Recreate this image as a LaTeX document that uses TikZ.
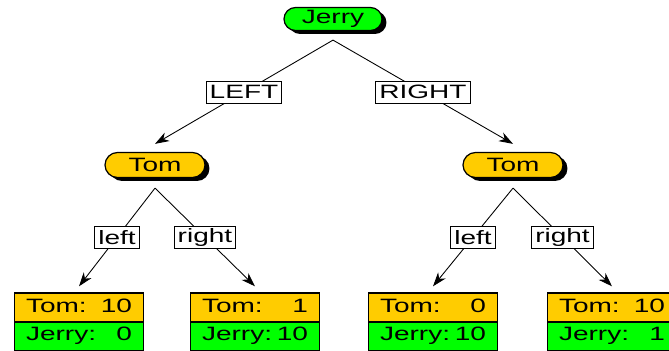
\documentclass[tikz,border=0pt]{standalone}
\usepackage{fontspec}
\setmainfont{Liberation Sans}[FakeStretch=1.45]
\usetikzlibrary{shapes.misc,shapes.multipart,shadows,arrows.meta}
\definecolor{tomgold}{RGB}{255,204,0}
\definecolor{jerrygreen}{RGB}{0,255,0}

\begin{document}
\begin{tikzpicture}[x=0.02cm,y=-0.02cm,
  player/.style={rounded rectangle,draw,line width=0.7pt,minimum height=0.46cm,
    inner sep=0pt,font=\fontsize{11pt}{13pt}\selectfont,
    drop shadow={fill=black,opacity=1,shadow xshift=0.09cm,shadow yshift=-0.07cm}},
  move/.style={draw,fill=white,line width=0.5pt,inner xsep=2pt,inner ysep=0pt,
    minimum height=0.44cm,font=\fontsize{11pt}{13pt}\selectfont},
  score/.style={rectangle split,rectangle split parts=2,draw,line width=1pt,
    rectangle split part fill={tomgold,jerrygreen},inner xsep=6.5pt,inner ysep=1.2pt,
    font=\fontsize{11pt}{13pt}\selectfont},
  edge/.style={line width=0.5pt,-{Stealth[length=8pt,width=5.5pt,inset=2.5pt]}}]
\useasboundingbox (0,0) rectangle (669,351);

% players
\node (jerry) at (333,19) [player,fill=jerrygreen,minimum width=1.96cm] {Jerry};
\node (tomL) at (155,165) [player,fill=tomgold,minimum width=2cm,minimum height=0.5cm] {Tom};
\node (tomR) at (513,165) [player,fill=tomgold,minimum width=2cm,minimum height=0.5cm] {Tom};

% payoffs
\node (leafLL) at (79,322) [score] {\strut\makebox[2.12cm]{Tom:\hfill 10}\nodepart{two}\strut\makebox[2.12cm]{Jerry:\hfill 0}};
\node (leafLR) at (255,322) [score] {\strut\makebox[2.12cm]{Tom:\hfill 1}\nodepart{two}\strut\makebox[2.12cm]{Jerry:\hfill 10}};
\node (leafRL) at (433,322) [score] {\strut\makebox[2.12cm]{Tom:\hfill 0}\nodepart{two}\strut\makebox[2.12cm]{Jerry:\hfill 10}};
\node (leafRR) at (612,322) [score] {\strut\makebox[2.12cm]{Tom:\hfill 10}\nodepart{two}\strut\makebox[2.12cm]{Jerry:\hfill 1}};

% moves
\draw [edge] ([yshift=-0.18cm]jerry.south) -- node (mvL) [move] {LEFT} ([yshift=0.16cm]tomL.north);
\draw [edge] ([yshift=-0.18cm]jerry.south) -- node (mvR) [move] {RIGHT} ([yshift=0.16cm]tomR.north);
\draw [edge] ([yshift=-0.2cm]tomL.south) -- node (mvLl) [move] {left} ([yshift=0.12cm]leafLL.north);
\draw [edge] ([yshift=-0.2cm]tomL.south) -- node (mvLr) [move] {right} ([yshift=0.12cm]leafLR.north);
\draw [edge] ([yshift=-0.2cm]tomR.south) -- node (mvRl) [move] {left} ([yshift=0.12cm]leafRL.north);
\draw [edge] ([yshift=-0.2cm]tomR.south) -- node (mvRr) [move] {right} ([yshift=0.12cm]leafRR.north);
\end{tikzpicture}
\end{document}
